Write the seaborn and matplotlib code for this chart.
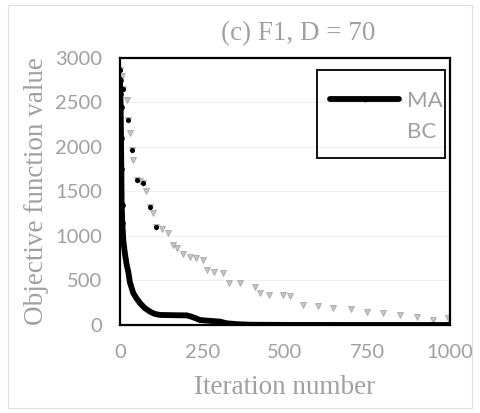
import numpy as np
import pandas as pd
import matplotlib
matplotlib.use("Agg")
import matplotlib.pyplot as plt
import seaborn as sns
from matplotlib.lines import Line2D
from matplotlib.patches import Rectangle

# Data
ma_iter = [0, 1, 2, 3, 4, 5, 7, 10, 15, 20, 25, 30, 35, 40, 50, 61, 75, 91, 105, 121, 160, 202, 215, 230, 242, 260, 303, 323, 360, 394, 500, 700, 1000]
ma_val = [2750, 2600, 2450, 2100, 1750, 1350, 1150, 950, 800, 680, 600, 480, 420, 360, 300, 244, 190, 150, 125, 113, 110, 108, 95, 75, 56, 50, 38, 19, 8, 3, 1, 0, 0]

bc_iter = [0, 5, 10, 20, 25, 30, 35, 40, 50, 60, 71, 80, 91, 100, 110, 126, 145, 162, 172, 190, 212, 230, 253, 263, 285, 313, 330, 364, 409, 424, 450, 495, 515, 556, 600, 646, 700, 747, 798, 848, 899, 949, 995]
bc_val = [2869, 2800, 2650, 2531, 2300, 2156, 1969, 1850, 1631, 1620, 1594, 1500, 1331, 1256, 1106, 1080, 1031, 900, 870, 800, 769, 750, 731, 619, 600, 581, 469, 469, 431, 356, 340, 338, 330, 225, 210, 188, 180, 150, 131, 113, 94, 56, 75]

x_ticks = [0, 250, 500, 750, 1000]
y_ticks = [0, 500, 1000, 1500, 2000, 2500, 3000]

ma_df = pd.DataFrame({"Iteration": ma_iter, "Value": ma_val})
bc_df = pd.DataFrame({"Iteration": bc_iter, "Value": bc_val})

sns.set_theme(style="white")
plt.rcParams['font.family'] = ['Lato', 'DejaVu Sans']

gray = '#a0a0a0'
fig = plt.figure(figsize=(4.8, 4.13), dpi=100)
ax = fig.add_axes([0.25, 0.2131, 0.6875, 0.6465])

for y in y_ticks[1:]:
    ax.axhline(y, color='#f0f0f0', lw=0.8, zorder=0)

sns.lineplot(data=bc_df, x="Iteration", y="Value", ax=ax, color='white', lw=0.5,
             marker='v', markersize=5, markerfacecolor='#c4c4c4', markeredgecolor='#a0a0a0',
             markeredgewidth=0.5, zorder=2)
early = bc_df[bc_df["Iteration"] <= 110]
ax.scatter(early["Iteration"][::2], early["Value"][::2], s=7, color='black', zorder=3)

sns.lineplot(data=ma_df, x="Iteration", y="Value", ax=ax, color='black', lw=4.2,
             solid_capstyle='round', zorder=4)
ax.scatter(ma_df["Iteration"][:7], ma_df["Value"][:7], s=14, color='black', zorder=5)

ax.set_xlim(0, 1000)
ax.set_ylim(0, 3000)
ax.set_xticks(x_ticks)
ax.set_yticks(y_ticks)
ax.tick_params(axis='both', length=0, colors=gray, labelsize=14.5)
ax.tick_params(axis='y', pad=13)
ax.tick_params(axis='x', pad=14)
for s in ax.spines.values():
    s.set_color('black')
    s.set_linewidth(1.6)
ax.set_xlabel("Iteration number", family='Liberation Serif', fontsize=19.5, color=gray, labelpad=10)
ax.set_ylabel("Objective function value", family='Liberation Serif', fontsize=19.5, color=gray, labelpad=4)
ax.set_title("(c) F1, D = 70", family='Liberation Serif', fontsize=19.5, color=gray, x=0.54, pad=13)

handles = [Line2D([0], [0], color='black', lw=4.2, marker='o', markersize=3, solid_capstyle='round'),
           Line2D([0], [0], color='white', lw=4)]
leg = ax.legend(handles, ["MA", "BC"], loc='upper right', bbox_to_anchor=(0.978, 0.878),
                frameon=False, fontsize=16, labelcolor=gray,
                handlelength=3.1, handletextpad=0.36, borderpad=0, labelspacing=0.5,
                borderaxespad=0)
ax.add_patch(Rectangle((0.597, 0.625), 0.388, 0.33, transform=ax.transAxes,
                       fill=False, edgecolor='black', lw=1.3, zorder=6))

fig.patches.append(Rectangle((8/480, 5/413), 464/480, 403/413, transform=fig.transFigure,
                             fill=False, edgecolor='#e0e0e0', lw=0.8))

fig.savefig("out.png", dpi=100)
